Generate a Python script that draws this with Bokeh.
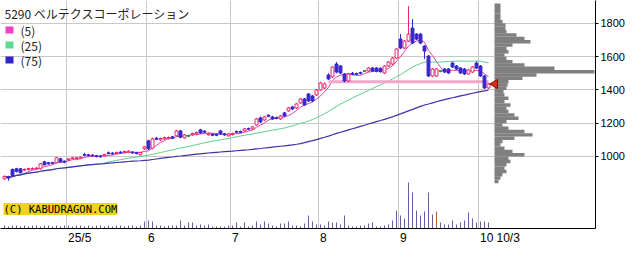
import numpy as np
import pandas as pd
from bokeh.plotting import figure
from bokeh.models import Range1d, FixedTicker, Label, BoxAnnotation
from bokeh.embed import file_html
from bokeh.resources import INLINE

title_text = "5290 ベルテクスコーポレーション"

opens = [866, 880, 922, 926, 926, 918, 922, 924, 926, 926,
         968, 962, 962, 962, 986, 972, 980, 988, 988, 990,
         1012, 1010, 1008, 1004, 1002, 1004, 1022, 1020, 1018, 1026,
         1024, 1026, 1026, 1022, 1010, 1046, 1094, 1050, 1110, 1100,
         1106, 1108, 1118, 1124, 1154, 1112, 1124, 1130, 1136, 1160,
         1152, 1130, 1134, 1134, 1154, 1136, 1124, 1132, 1150, 1150,
         1154, 1168, 1166, 1190, 1232, 1220, 1248, 1238, 1234, 1226,
         1262, 1274, 1298, 1292, 1322, 1346, 1376, 1364, 1370, 1400,
         1412, 1490, 1478, 1556, 1544, 1496, 1454, 1500, 1498, 1504,
         1514, 1514, 1532, 1532, 1530, 1502, 1544, 1556, 1592, 1706,
         1652, 1694, 1772, 1736, 1736, 1664, 1604, 1484, 1484, 1514,
         1526, 1526, 1562, 1544, 1532, 1526, 1496, 1508, 1562, 1544,
         1484, 1412]
closes = [880, 870, 886, 910, 902, 922, 928, 928, 930, 956,
          950, 956, 960, 992, 968, 966, 986, 992, 992, 996,
          1008, 1006, 1004, 1000, 998, 1012, 1018, 1016, 1024, 1022,
          1030, 1032, 1022, 1018, 1024, 1058, 1046, 1106, 1104, 1108,
          1114, 1114, 1110, 1154, 1116, 1130, 1124, 1138, 1144, 1142,
          1146, 1138, 1128, 1128, 1136, 1130, 1136, 1138, 1146, 1146,
          1166, 1164, 1178, 1226, 1208, 1238, 1242, 1226, 1230, 1244,
          1244, 1292, 1286, 1316, 1346, 1310, 1334, 1334, 1400, 1442,
          1436, 1466, 1538, 1508, 1502, 1454, 1496, 1494, 1494, 1500,
          1514, 1532, 1514, 1512, 1510, 1544, 1568, 1592, 1646, 1652,
          1694, 1736, 1682, 1706, 1682, 1634, 1484, 1526, 1526, 1514,
          1508, 1502, 1538, 1526, 1502, 1496, 1520, 1538, 1532, 1484,
          1412, 1436]
highs = [886, 884, 928, 932, 930, 928, 932, 934, 936, 960,
         974, 968, 968, 996, 992, 976, 990, 996, 998, 1000,
         1022, 1016, 1014, 1010, 1008, 1016, 1030, 1026, 1030, 1032,
         1036, 1038, 1032, 1028, 1028, 1064, 1100, 1114, 1118, 1114,
         1120, 1120, 1124, 1160, 1160, 1136, 1130, 1144, 1150, 1166,
         1158, 1144, 1140, 1140, 1160, 1142, 1142, 1144, 1156, 1156,
         1172, 1174, 1184, 1232, 1240, 1244, 1254, 1244, 1240, 1250,
         1268, 1298, 1304, 1322, 1352, 1352, 1382, 1370, 1406, 1448,
         1446, 1500, 1544, 1568, 1550, 1502, 1502, 1508, 1504, 1510,
         1520, 1538, 1538, 1538, 1536, 1550, 1574, 1598, 1652, 1736,
         1700, 1904, 1826, 1742, 1742, 1670, 1610, 1532, 1532, 1520,
         1532, 1532, 1570, 1550, 1538, 1532, 1526, 1544, 1572, 1550,
         1490, 1442]
lows = [860, 854, 880, 904, 898, 914, 916, 920, 920, 922,
        946, 950, 954, 958, 964, 960, 974, 984, 984, 986,
        1002, 1000, 998, 994, 994, 1000, 1012, 1010, 1014, 1016,
        1020, 1022, 1016, 1012, 1006, 1040, 1040, 1044, 1098, 1094,
        1100, 1102, 1104, 1120, 1110, 1108, 1118, 1124, 1130, 1136,
        1140, 1126, 1122, 1122, 1130, 1124, 1120, 1126, 1140, 1140,
        1150, 1158, 1160, 1186, 1202, 1214, 1236, 1220, 1224, 1220,
        1238, 1268, 1280, 1286, 1316, 1304, 1328, 1328, 1364, 1394,
        1406, 1460, 1472, 1500, 1496, 1446, 1448, 1488, 1488, 1494,
        1508, 1508, 1508, 1506, 1504, 1496, 1538, 1550, 1586, 1646,
        1646, 1688, 1676, 1700, 1676, 1586, 1478, 1478, 1478, 1506,
        1502, 1496, 1532, 1520, 1496, 1490, 1490, 1502, 1526, 1478,
        1406, 1406]
# volume, thousand shares
volumes = [30, 20, 30, 30, 20, 30, 20, 30, 30, 20,
           30, 30, 20, 30, 20, 30, 30, 20, 30, 30,
           20, 30, 20, 30, 30, 20, 30, 20, 30, 30,
           20, 30, 30, 20, 30, 70, 80, 70, 30, 30,
           20, 30, 30, 30, 80, 30, 60, 60, 30, 40,
           30, 40, 20, 20, 20, 20, 30, 30, 60, 20,
           60, 20, 30, 70, 40, 70, 50, 30, 20, 50,
           50, 70, 30, 30, 20, 50, 130, 70, 40, 40,
           30, 70, 60, 60, 40, 130, 30, 20, 20, 30,
           30, 50, 60, 20, 20, 30, 40, 80, 180, 130,
           100, 460, 360, 180, 130, 170, 360, 140, 170, 60,
           40, 40, 80, 40, 60, 80, 160, 100, 60, 70,
           70, 60]
highlight_volume_day = 108

month_labels = ["25/5", "6", "7", "8", "9", "10"]
month_start = [16, 36, 57, 79, 99, 119]
last_label = "10/3"
price_ticks = [1000, 1200, 1400, 1600, 1800]

# price-by-volume profile (20-yen bins, top to bottom)
profile_prices = [1910, 1890, 1870, 1850, 1830, 1810, 1790, 1770, 1750, 1730,
                  1710, 1690, 1670, 1650, 1630, 1610, 1590, 1570, 1550, 1530,
                  1510, 1490, 1470, 1450, 1430, 1410, 1390, 1370, 1350, 1330,
                  1310, 1290, 1270, 1250, 1230, 1210, 1190, 1170, 1150, 1130,
                  1110, 1090, 1070, 1050, 1030, 1010, 990, 970, 950, 930,
                  910, 890, 870, 850]
profile_vol = [60, 60, 60, 60, 60, 80, 110, 110, 120, 220,
               300, 360, 180, 120, 140, 100, 120, 180, 300, 600,
               1000, 420, 280, 140, 130, 120, 90, 100, 140, 100,
               160, 120, 140, 200, 240, 120, 80, 140, 300, 380,
               200, 80, 60, 100, 180, 300, 140, 160, 120, 100,
               120, 80, 60, 40]

support_price = 1450
support_from = 81

ma_windows = [5, 25, 75]
ma_colors = ["#e040a8", "#5ccf8a", "#4030a8"]
legend_colors = ["#f040c8", "#5fd890", "#3322cc"]

UP, DOWN, EVEN = "#e8286a", "#3828c8", "#2e8b2e"

n = len(closes)
idx = np.arange(n)
o = np.array(opens, float)
c = np.array(closes, float)
h = np.array(highs, float)
l = np.array(lows, float)

p = figure(width=640, height=254, x_range=Range1d(-1, 147.75), y_range=Range1d(567, 1938),
           output_backend="svg", toolbar_location=None, y_axis_location="right",
           min_border_left=0, min_border_top=0, min_border_right=45, min_border_bottom=26)
p.outline_line_color = None
p.background_fill_color = "white"
p.border_fill_color = "white"
p.extra_y_ranges = {"vol": Range1d(0, 2280)}
p.extra_x_ranges = {"vp": Range1d(-4940, 1010)}

# grids
p.xgrid.ticker = FixedTicker(ticks=[m - 0.5 for m in month_start])
p.ygrid.ticker = FixedTicker(ticks=price_ticks)
for g in (p.xgrid[0], p.ygrid[0]):
    g.grid_line_color = "#c8c8c8"
    g.grid_line_width = 1

# right axis
yax = p.yaxis[0]
yax.ticker = FixedTicker(ticks=price_ticks)
yax.axis_line_color = "black"
yax.major_tick_in = 0
yax.major_tick_out = 3
yax.minor_tick_line_color = None
yax.major_label_text_font = "Liberation Sans"
yax.major_label_text_font_size = "11px"
yax.major_label_text_color = "black"
yax.major_label_standoff = 2

# bottom axis: labels start just right of month grid lines
def est_w(s):
    return sum(6.67 if ch.isdigit() else 3.33 for ch in s)

tick_pos, tick_txt = [], []
for lab, m in zip(month_labels, month_start):
    tick_pos.append(m - 0.5 + (1.5 + est_w(lab) / 2) / 4)
    tick_txt.append(lab)
tick_pos.append(n - 1 + 2.0 + (est_w(last_label) / 2) / 4)
tick_txt.append(last_label)
xax = p.xaxis[0]
xax.ticker = FixedTicker(ticks=tick_pos)
xax.major_label_overrides = {t: s for t, s in zip(tick_pos, tick_txt)}
xax.axis_line_color = "black"
xax.major_tick_in = 0
xax.major_tick_out = 0
xax.major_tick_line_color = None
xax.minor_tick_line_color = None
xax.major_label_text_font = "Liberation Sans"
xax.major_label_text_font_size = "12px"
xax.major_label_text_color = "black"
xax.major_label_standoff = 2

# volume bars
vcol = ["#6a5f9e"] * n
vcol[highlight_volume_day] = "#b0622e"
p.segment(x0=idx, y0=0, x1=idx, y1=volumes, y_range_name="vol", line_color=vcol, line_width=1)

# volume profile
p.hbar(y=profile_prices, height=21, left=0, right=profile_vol, x_range_name="vp",
       fill_color="#808080", line_color=None)

# moving averages
cs = pd.Series(c)
for w, col in zip(ma_windows, ma_colors):
    ma = cs.rolling(w, min_periods=1).mean()
    p.line(idx, ma, line_color=col, line_width=1.2 if w == 75 else 1)

# support line
p.segment(x0=[support_from], y0=[support_price], x1=[n - 1], y1=[support_price],
          line_color="#f2a6cc", line_width=3)

# candles
colors = [UP if cc > oo else (DOWN if cc < oo else EVEN) for oo, cc in zip(o, c)]
fills = ["white" if cc > oo else col for oo, cc, col in zip(o, c, colors)]
top = np.maximum(o, c)
bot = np.minimum(o, c)
mid = (top + bot) / 2
small = (top - bot) < 4
top = np.where(small, mid + 2, top)
bot = np.where(small, mid - 2, bot)
p.segment(x0=idx, y0=l, x1=idx, y1=h, line_color=colors, line_width=1)
p.vbar(x=idx, width=0.72, top=top, bottom=bot, fill_color=fills, line_color=colors, line_width=1)

# last price marker
p.scatter(x=[n - 1 + 1.6], y=[closes[-1]], marker="triangle", angle=np.pi / 2, size=9,
          fill_color="#e02a10", line_color="#7a1000", line_width=1)

# title and legend
p.add_layout(Label(x=4, y=228 - 13, x_units="screen", y_units="screen", text=title_text,
                   text_font="Noto Sans CJK JP", text_font_size="12px", text_color="#222222",
                   text_baseline="middle"))
for k, (w, col) in enumerate(zip(ma_windows, legend_colors)):
    cy = 29.5 + 15 * k
    p.add_layout(BoxAnnotation(left=5, right=13, top=228 - (cy - 3.5), bottom=228 - (cy + 3.5),
                               left_units="screen", right_units="screen", top_units="screen",
                               bottom_units="screen", fill_color=col, fill_alpha=1, line_color=None))
    p.add_layout(Label(x=20, y=228 - cy, x_units="screen", y_units="screen", text=f"({w})",
                       text_font="Noto Sans CJK JP", text_font_size="12px", text_color="#222222",
                       text_baseline="middle"))

p.add_layout(Label(x=3, y=228 - 208.5, x_units="screen", y_units="screen",
                   text="(C) KABUDRAGON.COM", text_font="DejaVu Sans Mono", text_font_size="10.5px",
                   text_color="black", text_baseline="middle", background_fill_color="#f0d41c"))

open("out.html", "w").write(file_html(p, INLINE))
